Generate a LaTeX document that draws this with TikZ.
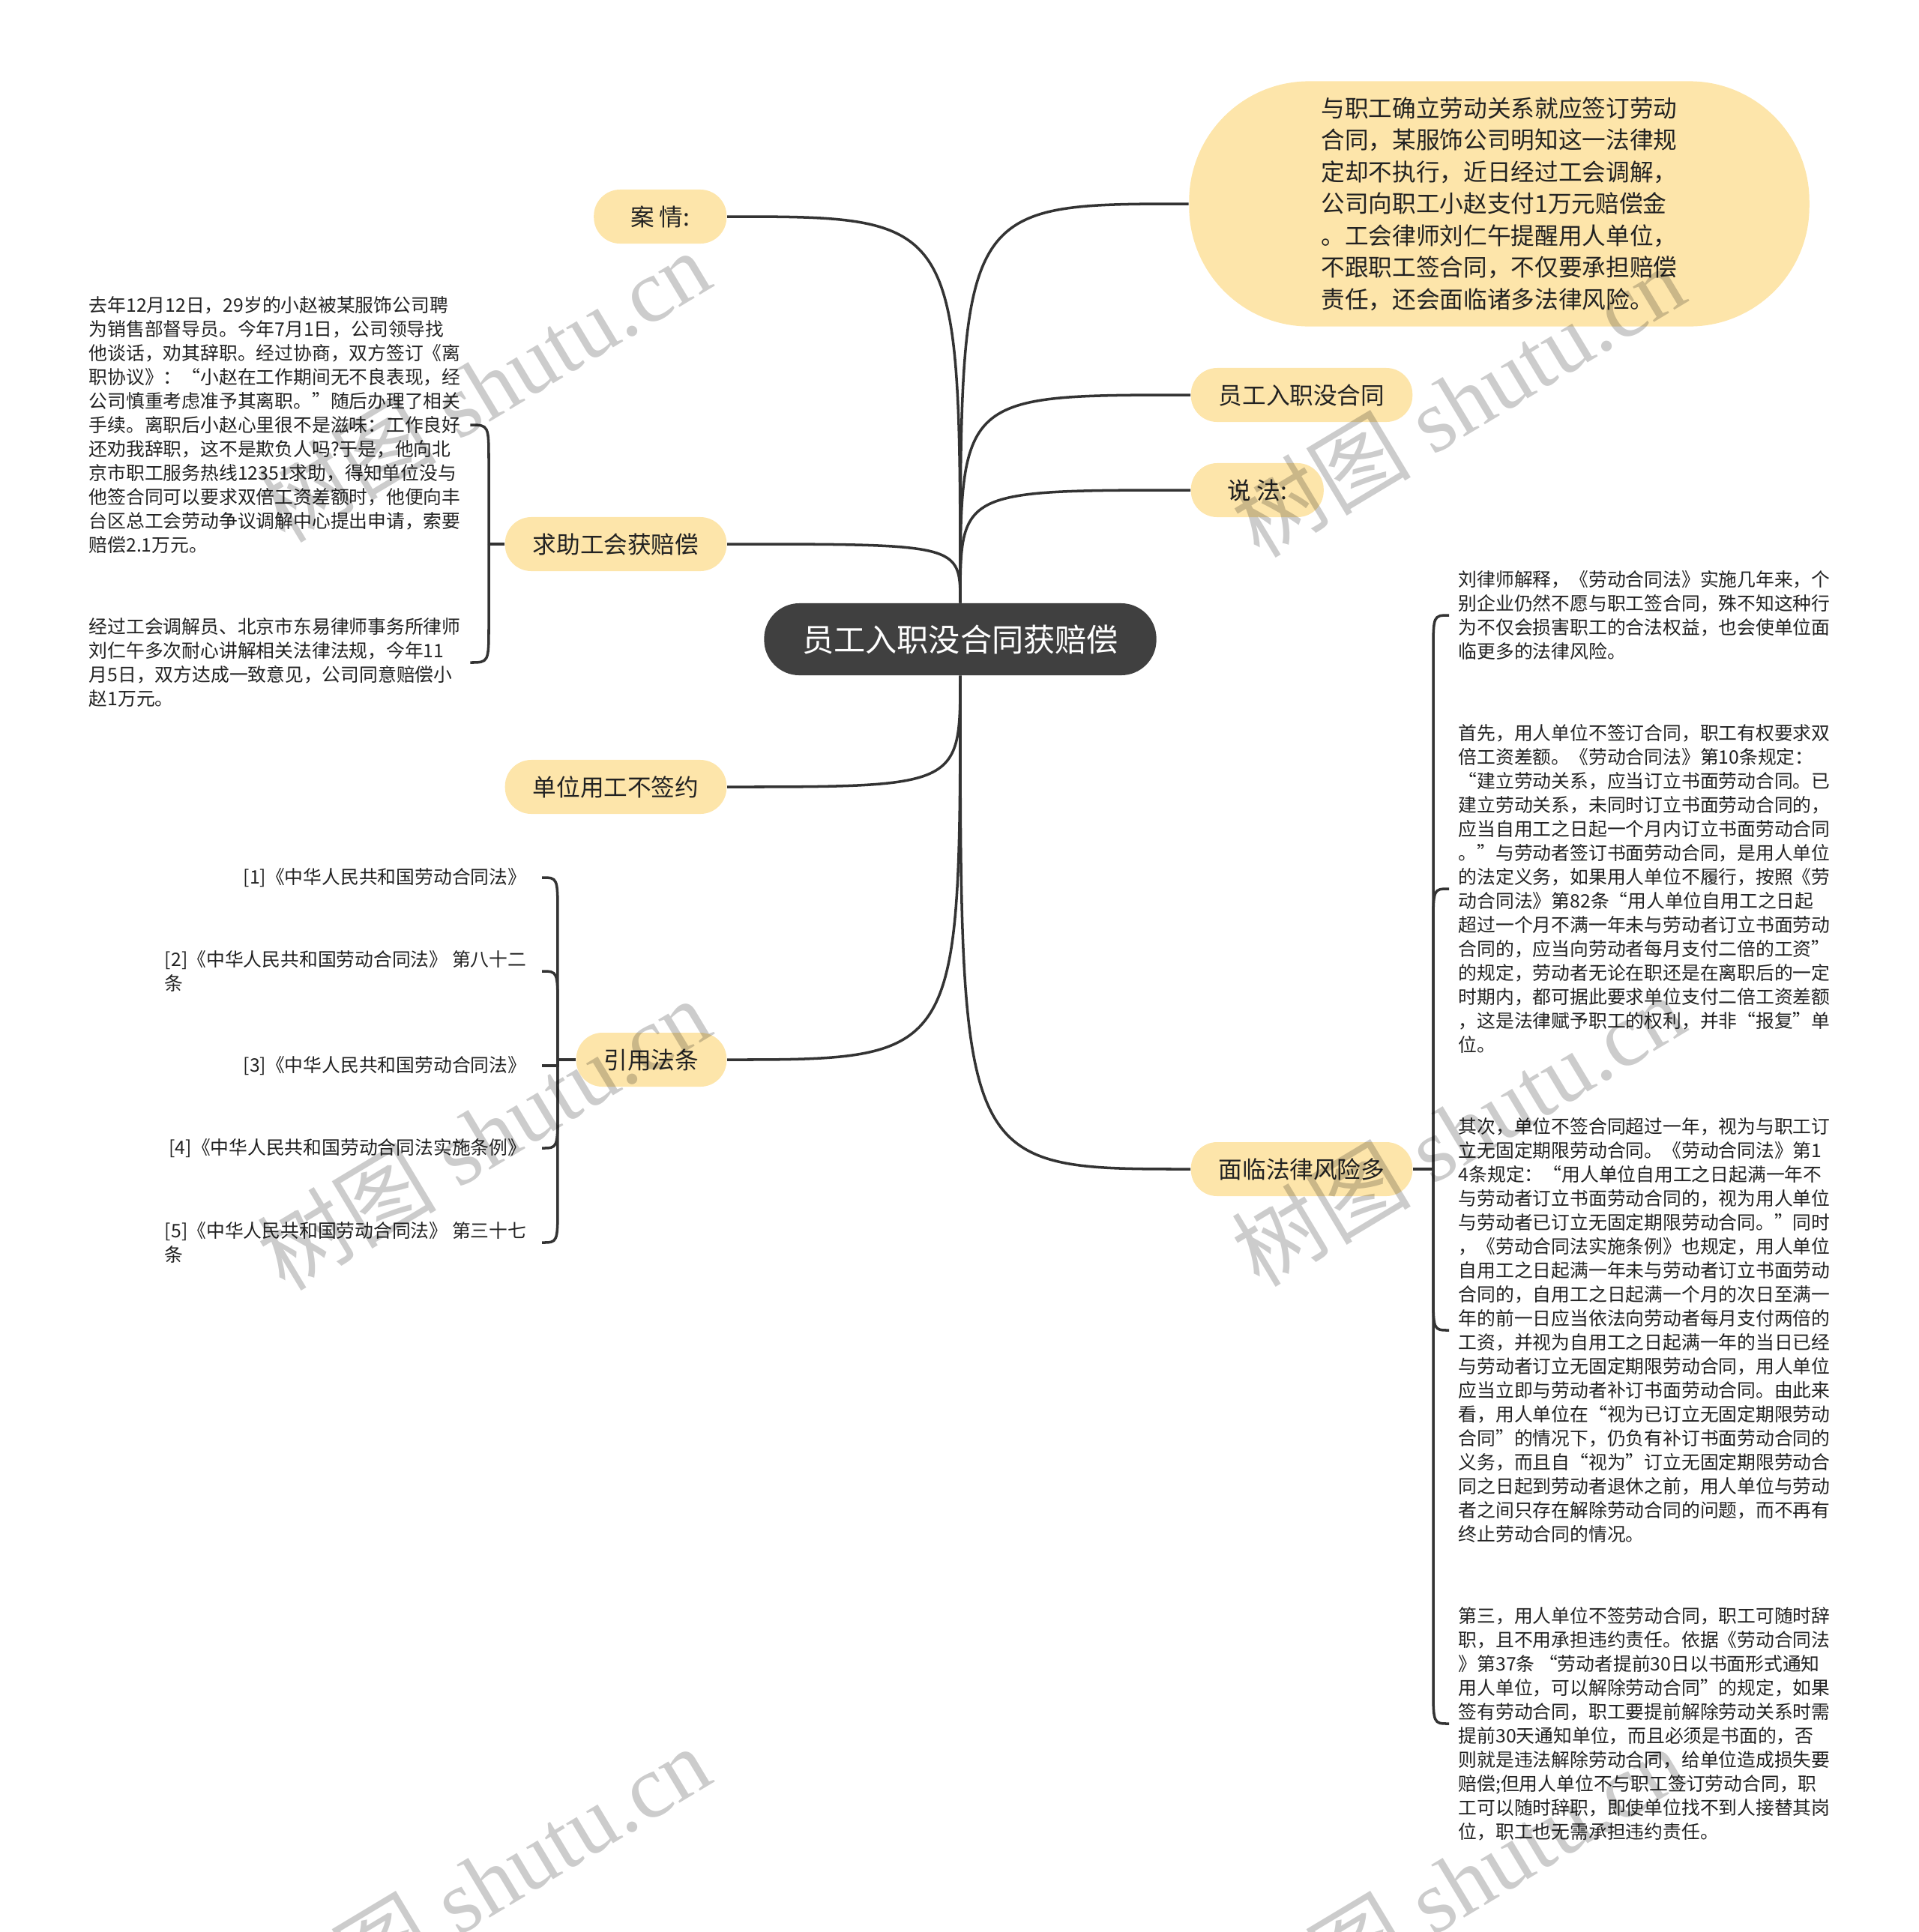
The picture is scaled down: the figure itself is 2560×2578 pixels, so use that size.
\documentclass[tikz,border=0pt]{standalone}
\usepackage{fontspec}
\setmainfont{Noto Sans CJK SC}
\newfontfamily\wmfont{Liberation Serif}
\newfontfamily\wmcjk{Noto Sans CJK SC}
\usetikzlibrary{calc}

\definecolor{pillYellow}{RGB}{253,229,170}
\definecolor{rootGray}{RGB}{64,64,64}
\definecolor{lineGray}{RGB}{51,51,51}
\definecolor{inkGray}{RGB}{34,34,34}

\begin{document}
\begin{tikzpicture}[
    x=0.01cm, y=-0.01cm,
    rootBox/.style={fill=rootGray, text=white, rounded corners=0.47cm, minimum width=5.23cm, minimum height=0.96cm, font=\fontsize{12pt}{14pt}\selectfont},
    pill/.style={fill=pillYellow, text=inkGray, rounded corners=0.35cm, minimum height=0.72cm, inner xsep=0.37cm, font=\fontsize{9pt}{11pt}\selectfont},
    bigPill/.style={fill=pillYellow, text=inkGray, rounded corners=1.6cm, minimum width=8.27cm, minimum height=3.27cm, align=left, font=\fontsize{9pt}{12.1pt}\selectfont},
    leafText/.style={text=inkGray, align=left, inner xsep=0.12cm, inner ysep=0pt, font=\fontsize{7.05pt}{9.1pt}\selectfont},
    citeText/.style={leafText, inner xsep=0.2cm, anchor=east},
    branch/.style={draw=lineGray, line width=1pt},
    wmText/.style={text=black, text opacity=0.2, rotate=31, font=\wmfont\fontsize{34pt}{34pt}\selectfont}
]
\useasboundingbox (0,0) rectangle (2560,2578);

\node[rootBox] (root) at (1281,853) {员工入职没合同获赔偿};

\node[pill, anchor=east, minimum width=1.77cm] (caseNode) at (970,289) {案 情:};
\node[pill, anchor=east] (seek) at (970,726) {求助工会获赔偿};
\node[pill, anchor=east] (unsigned) at (970,1050) {单位用工不签约};
\node[pill, anchor=east] (cite) at (970,1414) {引用法条};

\node[bigPill] (summary) at (2000,272) {%
  与职工确立劳动关系就应签订劳动\\
  合同，某服饰公司明知这一法律规\\
  定却不执行，近日经过工会调解，\\
  公司向职工小赵支付1万元赔偿金\\
  。工会律师刘仁午提醒用人单位，\\
  不跟职工签合同，不仅要承担赔偿\\
  责任，还会面临诸多法律风险。};
\node[pill, anchor=west] (noContract) at (1588,527) {员工入职没合同};
\node[pill, anchor=west, minimum width=1.77cm] (opinion) at (1588,654) {说 法:};
\node[pill, anchor=west] (risk) at (1588,1560) {面临法律风险多};

\node[leafText, anchor=west] (seekOne) at (106,567) {%
  去年12月12日，29岁的小赵被某服饰公司聘\\
  为销售部督导员。今年7月1日，公司领导找\\
  他谈话，劝其辞职。经过协商，双方签订《离\\
  职协议》：“小赵在工作期间无不良表现，经\\
  公司慎重考虑准予其离职。”随后办理了相关\\
  手续。离职后小赵心里很不是滋味：工作良好\\
  还劝我辞职，这不是欺负人吗?于是，他向北\\
  京市职工服务热线12351求助，得知单位没与\\
  他签合同可以要求双倍工资差额时，他便向丰\\
  台区总工会劳动争议调解中心提出申请，索要\\
  赔偿2.1万元。};
\node[leafText, anchor=west] (seekTwo) at (106,884) {%
  经过工会调解员、北京市东易律师事务所律师\\
  刘仁午多次耐心讲解相关法律法规，今年11\\
  月5日，双方达成一致意见，公司同意赔偿小\\
  赵1万元。};

\node[citeText] (citeOne) at (723,1171) {[1]《中华人民共和国劳动合同法》};
\node[citeText] (citeTwo) at (723,1296) {[2]《中华人民共和国劳动合同法》 第八十二\\条};
\node[citeText] (citeThree) at (723,1422) {[3]《中华人民共和国劳动合同法》};
\node[citeText] (citeFour) at (723,1532) {[4]《中华人民共和国劳动合同法实施条例》};
\node[citeText] (citeFive) at (723,1658) {[5]《中华人民共和国劳动合同法》 第三十七\\条};

\node[leafText, anchor=west] (riskOne) at (1933,821) {%
  刘律师解释，《劳动合同法》实施几年来，个\\
  别企业仍然不愿与职工签合同，殊不知这种行\\
  为不仅会损害职工的合法权益，也会使单位面\\
  临更多的法律风险。};
\node[leafText, anchor=west] (riskTwo) at (1933,1186) {%
  首先，用人单位不签订合同，职工有权要求双\\
  倍工资差额。《劳动合同法》第10条规定：\\
  “建立劳动关系，应当订立书面劳动合同。已\\
  建立劳动关系，未同时订立书面劳动合同的，\\
  应当自用工之日起一个月内订立书面劳动合同\\
  。”与劳动者签订书面劳动合同，是用人单位\\
  的法定义务，如果用人单位不履行，按照《劳\\
  动合同法》第82条“用人单位自用工之日起\\
  超过一个月不满一年未与劳动者订立书面劳动\\
  合同的，应当向劳动者每月支付二倍的工资”\\
  的规定，劳动者无论在职还是在离职后的一定\\
  时期内，都可据此要求单位支付二倍工资差额\\
  ，这是法律赋予职工的权利，并非“报复”单\\
  位。};
\node[leafText, anchor=west] (riskThree) at (1933,1775) {%
  其次，单位不签合同超过一年，视为与职工订\\
  立无固定期限劳动合同。《劳动合同法》第1\\
  4条规定：“用人单位自用工之日起满一年不\\
  与劳动者订立书面劳动合同的，视为用人单位\\
  与劳动者已订立无固定期限劳动合同。”同时\\
  ，《劳动合同法实施条例》也规定，用人单位\\
  自用工之日起满一年未与劳动者订立书面劳动\\
  合同的，自用工之日起满一个月的次日至满一\\
  年的前一日应当依法向劳动者每月支付两倍的\\
  工资，并视为自用工之日起满一年的当日已经\\
  与劳动者订立无固定期限劳动合同，用人单位\\
  应当立即与劳动者补订书面劳动合同。由此来\\
  看，用人单位在“视为已订立无固定期限劳动\\
  合同”的情况下，仍负有补订书面劳动合同的\\
  义务，而且自“视为”订立无固定期限劳动合\\
  同之日起到劳动者退休之前，用人单位与劳动\\
  者之间只存在解除劳动合同的问题，而不再有\\
  终止劳动合同的情况。};
\node[leafText, anchor=west] (riskFour) at (1933,2300) {%
  第三，用人单位不签劳动合同，职工可随时辞\\
  职，且不用承担违约责任。依据《劳动合同法\\
  》第37条 “劳动者提前30日以书面形式通知\\
  用人单位，可以解除劳动合同”的规定，如果\\
  签有劳动合同，职工要提前解除劳动关系时需\\
  提前30天通知单位，而且必须是书面的，否\\
  则就是违法解除劳动合同，给单位造成损失要\\
  赔偿;但用人单位不与职工签订劳动合同，职\\
  工可以随时辞职，即使单位找不到人接替其岗\\
  位，职工也无需承担违约责任。};

\draw[branch] (root.north) .. controls (root.north |- caseNode.east) .. (caseNode.east);
\draw[branch] (root.north) .. controls (root.north |- seek.east) .. (seek.east);
\draw[branch] (root.south) .. controls (root.south |- unsigned.east) .. (unsigned.east);
\draw[branch] (root.south) .. controls (root.south |- cite.east) .. (cite.east);
\draw[branch] (root.north) .. controls (root.north |- summary.west) .. (summary.west);
\draw[branch] (root.north) .. controls (root.north |- noContract.west) .. (noContract.west);
\draw[branch] (root.north) .. controls (root.north |- opinion.west) .. (opinion.west);
\draw[branch] (root.south) .. controls (root.south |- risk.west) .. (risk.west);

\coordinate (seekFork) at ($(seek.west)+(-21,0)$);
\draw[branch] (seek.west) -- (seekFork);
\draw[branch] (seekFork) -- ($(seekFork |- seekOne.east)+(0,50)$) .. controls (seekFork |- seekOne.east) .. (seekOne.east);
\draw[branch] (seekFork) -- ($(seekFork |- seekTwo.east)+(0,-50)$) .. controls (seekFork |- seekTwo.east) .. (seekTwo.east);

\coordinate (citeFork) at ($(cite.west)+(-24,0)$);
\draw[branch] (cite.west) -- (citeFork);
\draw[branch] (citeFork) -- ($(citeFork |- citeOne.east)+(0,50)$) .. controls (citeFork |- citeOne.east) .. (citeOne.east);
\draw[branch] (citeFork) -- ($(citeFork |- citeTwo.east)+(0,50)$) .. controls (citeFork |- citeTwo.east) .. (citeTwo.east);
\draw[branch] (citeFork) |- (citeThree.east);
\draw[branch] (citeFork) -- ($(citeFork |- citeFour.east)+(0,-50)$) .. controls (citeFork |- citeFour.east) .. (citeFour.east);
\draw[branch] (citeFork) -- ($(citeFork |- citeFive.east)+(0,-50)$) .. controls (citeFork |- citeFive.east) .. (citeFive.east);

\coordinate (riskFork) at ($(risk.east)+(27,0)$);
\draw[branch] (risk.east) -- (riskFork);
\draw[branch] (riskFork) -- ($(riskFork |- riskOne.west)+(0,50)$) .. controls (riskFork |- riskOne.west) .. (riskOne.west);
\draw[branch] (riskFork) -- ($(riskFork |- riskTwo.west)+(0,50)$) .. controls (riskFork |- riskTwo.west) .. (riskTwo.west);
\draw[branch] (riskFork) -- ($(riskFork |- riskThree.west)+(0,-50)$) .. controls (riskFork |- riskThree.west) .. (riskThree.west);
\draw[branch] (riskFork) -- ($(riskFork |- riskFour.west)+(0,-50)$) .. controls (riskFork |- riskFour.west) .. (riskFour.west);

\node[wmText] (wmA) at (645,515) {{\wmcjk 树图} shutu.cn};
\node[wmText] (wmB) at (1945,535) {{\wmcjk 树图} shutu.cn};
\node[wmText] (wmC) at (645,1513) {{\wmcjk 树图} shutu.cn};
\node[wmText] (wmD) at (1945,1508) {{\wmcjk 树图} shutu.cn};
\node[wmText] (wmE) at (645,2511) {{\wmcjk 树图} shutu.cn};
\node[wmText] (wmF) at (1945,2511) {{\wmcjk 树图} shutu.cn};
\end{tikzpicture}
\end{document}
